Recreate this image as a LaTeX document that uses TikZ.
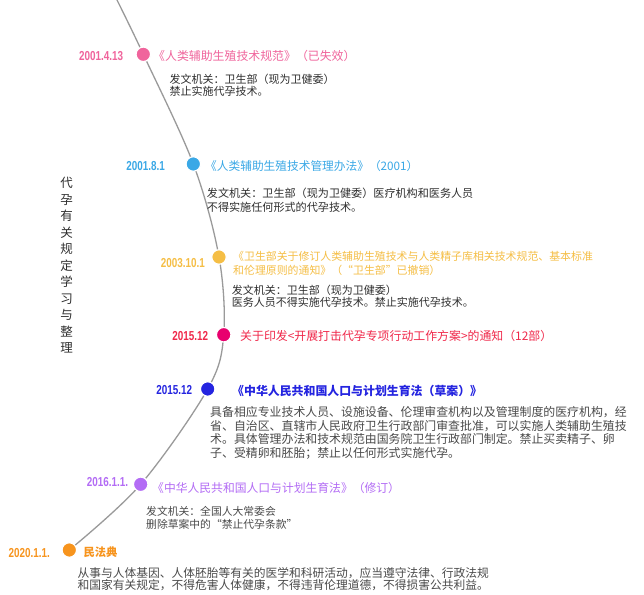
\documentclass[tikz,border=0pt]{standalone}
\usepackage{fontspec}
\setmainfont{Noto Sans CJK SC}
\newfontfamily\datefont[FakeStretch=0.76]{Liberation Sans}
\definecolor{cpink}{HTML}{F0649C}
\definecolor{cblue}{HTML}{3AA8E6}
\definecolor{cyellow}{HTML}{F5BE45}
\definecolor{cmagdot}{HTML}{E8006E}
\definecolor{cred}{HTML}{F0284A}
\definecolor{cblue2}{HTML}{2424E0}
\definecolor{cpurple}{HTML}{B36CF5}
\definecolor{corange}{HTML}{F7941D}
\definecolor{bodydark}{HTML}{2E2E2E}
\definecolor{bodygray}{HTML}{4A4A4A}
\definecolor{curvegray}{HTML}{9A9A9A}
\begin{document}
\begin{tikzpicture}[x=1pt,y=-1pt,
  dot/.style={circle, inner sep=0, minimum size=14.5pt, draw=white, line width=1.2pt},
  datelbl/.style={anchor=east, inner sep=0, font=\datefont\bfseries\fontsize{13}{14}\selectfont},
  ttl/.style={anchor=west, inner sep=0, align=left},
  body/.style={anchor=west, inner sep=0, align=left, text=bodydark},
  curve/.style={draw=curvegray, line width=1.3pt}
]
\fill[white] (0,0) rectangle (644,594);
\useasboundingbox (0,0) rectangle (644,594);

% timeline points
\coordinate (top) at (117,0);
\coordinate (p1) at (143.3,54.3);
\coordinate (p2) at (193.3,164);
\coordinate (p3) at (219,257);
\coordinate (p4) at (223.7,334.7);
\coordinate (p5) at (207.7,389);
\coordinate (p6) at (140.7,484.3);
\coordinate (p7) at (69.3,550);

\draw[curve] plot[smooth, tension=0.55] coordinates {(top) (p1) (p2) (p3) (p4) (p5) (p6) (p7)};

\node[dot, fill=cpink] (d1) at (p1) {};
\node[dot, fill=cblue] (d2) at (p2) {};
\node[dot, fill=cyellow] (d3) at (p3) {};
\node[dot, fill=cmagdot] (d4) at (p4) {};
\node[dot, fill=cblue2] (d5) at (p5) {};
\node[dot, fill=cpurple] (d6) at (p6) {};
\node[dot, fill=corange] (d7) at (p7) {};

% vertical title
\node[inner sep=0, align=center, text=bodydark, font=\fontsize{12.5}{16.5}\selectfont] (vt) at (66.7,265.5)
  {代\\孕\\有\\关\\规\\定\\学\\习\\与\\整\\理};

% 1
\node[datelbl, text=cpink] (t1d) at (123.3,55.7) {2001.4.13};
\node[ttl, text=cpink, font=\fontsize{11.9}{14}\selectfont] (t1t) at (153,55.8) {《人类辅助生殖技术规范》（已失效）};
\node[body, font=\fontsize{11}{11.9}\selectfont] (t1b) at (169.3,85.5) {发文机关：卫生部（现为卫健委）\\禁止实施代孕技术。};

% 2
\node[datelbl, text=cblue] (t2d) at (165,165.7) {2001.8.1};
\node[ttl, text=cblue, font=\fontsize{11.7}{14}\selectfont] (t2t) at (205,165.7) {《人类辅助生殖技术管理办法》（2001）};
\node[body, font=\fontsize{11.1}{14.3}\selectfont] (t2b) at (206.7,200.2) {发文机关：卫生部（现为卫健委）医疗机构和医务人员\\不得实施任何形式的代孕技术。};

% 3
\node[datelbl, text=cyellow] (t3d) at (205,262.7) {2003.10.1};
\node[ttl, text=cyellow, font=\fontsize{10.9}{14.5}\selectfont] (t3t) at (233,263.2) {《卫生部关于修订人类辅助生殖技术与人类精子库相关技术规范、基本标准\\和伦理原则的通知》（“卫生部”已撤销）};
\node[body, font=\fontsize{11}{12.3}\selectfont] (t3b) at (231.7,296.2) {发文机关：卫生部（现为卫健委）\\医务人员不得实施代孕技术。禁止实施代孕技术。};

% 4
\node[datelbl, text=cred] (t4d) at (208.3,336) {2015.12};
\node[ttl, text=cred, font=\fontsize{11.9}{14}\selectfont] (t4t) at (240,336.3) {关于印发<开展打击代孕专项行动工作方案>的通知（12部）};

% 5
\node[datelbl, text=cblue2] (t5d) at (192.3,390) {2015.12};
\node[ttl, text=cblue2, font=\fontsize{11.9}{14}\selectfont\bfseries] (t5t) at (232,391) {《中华人民共和国人口与计划生育法（草案）》};
\node[body, text=bodygray, font=\fontsize{11.9}{13.7}\selectfont] (t5b) at (210,432.8) {具备相应专业技术人员、设施设备、伦理审查机构以及管理制度的医疗机构，经\\省、自治区、直辖市人民政府卫生行政部门审查批准，可以实施人类辅助生殖技\\术。具体管理办法和技术规范由国务院卫生行政部门制定。禁止买卖精子、卵\\子、受精卵和胚胎；禁止以任何形式实施代孕。};

% 6
\node[datelbl, text=cpurple] (t6d) at (128.3,482.3) {2016.1.1.};
\node[ttl, text=cpurple, font=\fontsize{11.8}{14}\selectfont] (t6t) at (152,488.3) {《中华人民共和国人口与计划生育法》（修订）};
\node[body, text=bodygray, font=\fontsize{10.8}{12.6}\selectfont] (t6b) at (146,518) {发文机关：全国人大常委会\\删除草案中的“禁止代孕条款”};

% 7
\node[datelbl, text=corange] (t7d) at (50,552.7) {2020.1.1.};
\node[ttl, text=corange, font=\fontsize{11.3}{14}\selectfont\bfseries] (t7t) at (83.3,552.7) {民法典};
\node[body, text=bodygray, font=\fontsize{11.75}{12}\selectfont] (t7b) at (77.3,579.2) {从事与人体基因、人体胚胎等有关的医学和科研活动，应当遵守法律、行政法规\\和国家有关规定，不得危害人体健康，不得违背伦理道德，不得损害公共利益。};
\end{tikzpicture}
\end{document}
